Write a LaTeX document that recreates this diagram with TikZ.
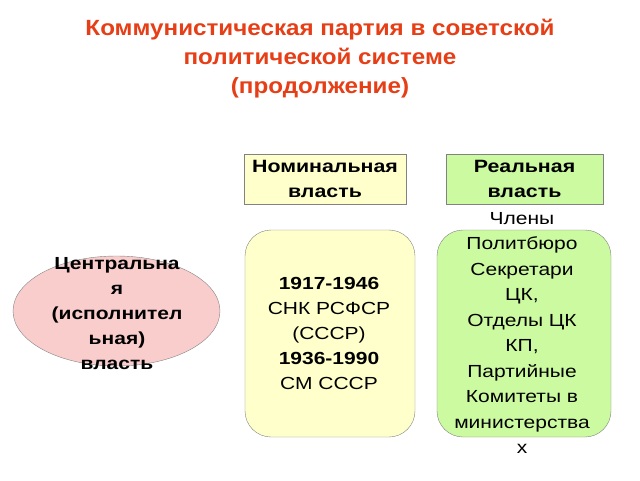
\documentclass[tikz,border=0pt]{standalone}
\usepackage{fontspec}
\setmainfont[FakeStretch=1.2]{Liberation Sans}
\newfontfamily\titlefont[FakeStretch=1.1]{Liberation Sans}
\usetikzlibrary{shapes.geometric}
\definecolor{titlered}{RGB}{230,62,22}
\definecolor{yfill}{RGB}{255,255,204}
\definecolor{gfill}{RGB}{204,250,160}
\definecolor{pfill}{RGB}{250,205,205}
\definecolor{edge}{RGB}{130,130,130}
\tikzset{
  txt/.style={align=center, inner sep=0pt, font=\fontsize{17.5}{25.5}\selectfont},
  head/.style={draw=edge, align=center, inner sep=0pt, font=\fontsize{17.8}{25}\selectfont\bfseries},
  rbox/.style={draw=edge, rounded corners=26pt, inner sep=0pt},
}
\begin{document}
\begin{tikzpicture}[x=1pt,y=-1pt]
\useasboundingbox (0,0) rectangle (640,480);
\node[align=center, inner sep=0pt, text=titlered, font=\titlefont\fontsize{22}{29}\selectfont\bfseries] (title) at (320,59)
  {Коммунистическая партия в советской\\политической системе\\(продолжение)};
\node[head, fill=yfill, minimum width=162pt, minimum height=50pt] (nom) at (325,179) {Номинальная\\власть};
\node[head, fill=gfill, minimum width=157pt, minimum height=50pt] (real) at (524.5,179) {Реальная\\власть};
\node[rbox, fill=yfill, minimum width=170pt, minimum height=207pt] (ybox) at (330,333.5) {};
\node[rbox, fill=gfill, minimum width=174pt, minimum height=207pt] (gbox) at (524,333.5) {};
\node[ellipse, draw=edge, fill=pfill, minimum width=207pt, minimum height=110pt, inner sep=0pt] (ell) at (116.5,311) {};
\node[txt, font=\fontsize{17.5}{25}\selectfont\bfseries] (etext) at (117,314) {Центральна\\я\\(исполнител\\ьная)\\власть};
\node[txt, font=\fontsize{17.5}{25}\selectfont] (ytext) at (329,333) {\textbf{1917-1946}\\СНК РСФСР\\(СССР)\\\textbf{1936-1990}\\СМ СССР};
\node[txt] (gtext) at (522,333) {Члены\\Политбюро\\Секретари\\ЦК,\\Отделы ЦК\\КП,\\Партийные\\Комитеты в\\министерства\\х};
\end{tikzpicture}
\end{document}
